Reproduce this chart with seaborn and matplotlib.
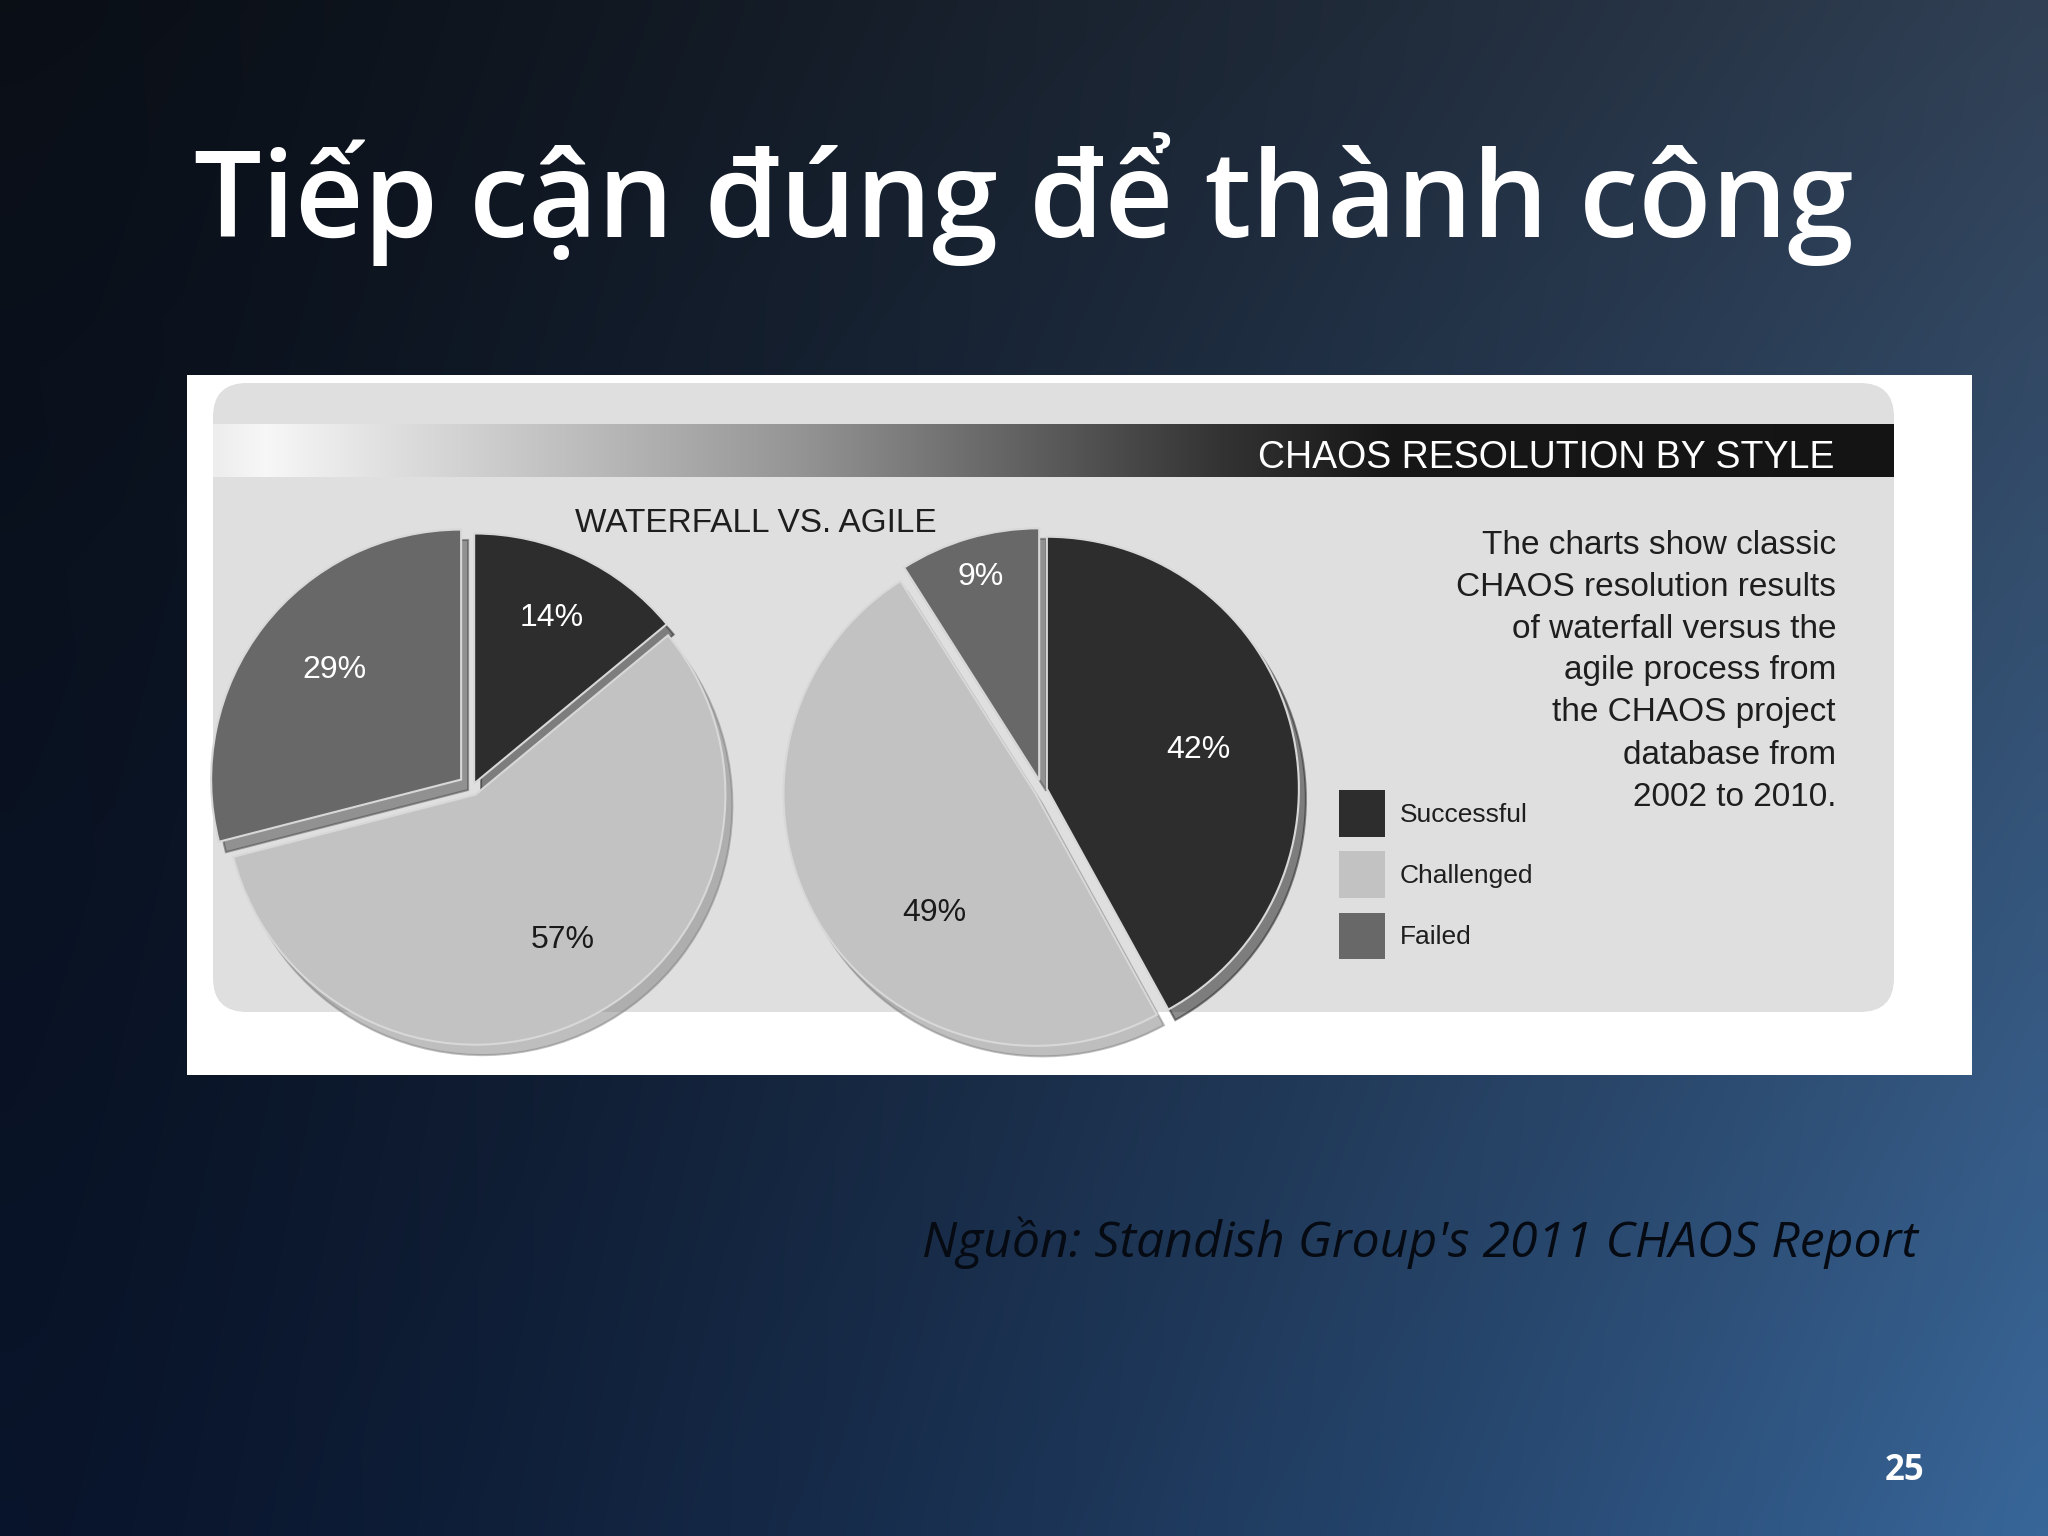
import numpy as np
import matplotlib
matplotlib.use("Agg")
import matplotlib.pyplot as plt
import seaborn as sns
from matplotlib import font_manager as fm
from matplotlib.patches import FancyBboxPatch, Rectangle, Patch

# ---------------- data ----------------
categories = ["Successful", "Challenged", "Failed"]
waterfall_pct = [14, 57, 29]
agile_pct = [42, 49, 9]
slide_title = "Tiếp cận đúng để thành công"
banner_title = "CHAOS RESOLUTION BY STYLE"
chart_subtitle = "WATERFALL VS. AGILE"
description_lines = [
    "The charts show classic",
    "CHAOS resolution results",
    "of waterfall versus the",
    "agile process from",
    "the CHAOS project",
    "database from",
    "2002 to 2010.",
]
source_text = "Nguồn: Standish Group's 2011 CHAOS Report"
page_number = "25"

# ---------------- style ----------------
sns.set_theme(style="white")
avail = {f.name for f in fm.fontManager.ttflist}
narrow = "Liberation Sans Narrow" if "Liberation Sans Narrow" in avail else "Liberation Sans"
plt.rcParams["font.family"] = ["Open Sans", "DejaVu Sans"]

slice_colors = sns.color_palette(["#2d2d2d", "#c2c2c2", "#686868"])
label_colors = ["white", "#1a1a1a", "white"]

W, H = 2048, 1536
fig = plt.figure(figsize=(W / 100, H / 100), dpi=100)

# background canvas in pixel coordinates
bg = fig.add_axes([0, 0, 1, 1])
ny, nx = 96, 96
tl = np.array([0.04, 0.06, 0.09])
tr = np.array([0.19, 0.25, 0.33])
bl = np.array([0.035, 0.08, 0.17])
br = np.array([0.22, 0.40, 0.60])
u = np.linspace(0, 1, nx)[None, :, None]
v = np.linspace(0, 1, ny)[:, None, None]
u2 = u ** 1.4
img = tl * (1 - u2) * (1 - v) + tr * u2 * (1 - v) + bl * (1 - u2) * v + br * u2 * v
bg.imshow(np.clip(img, 0, 1), extent=[0, W, H, 0], aspect="auto",
          interpolation="bilinear", zorder=0)

# white picture box
bg.add_patch(Rectangle((187, 375), 1785, 700, fc="white", ec="none", zorder=1))
# grey rounded panel
pad = 34
bg.add_patch(FancyBboxPatch((213 + pad, 383 + pad), 1681 - 2 * pad, 629 - 2 * pad,
                            boxstyle=f"round,pad={pad}", fc="#dfdfdf", ec="none", zorder=2))
# gradient banner
gx = np.linspace(0, 1, 400)
stops_x = [0.0, 0.03, 0.10, 0.35, 0.60, 0.70, 1.0]
stops_v = [0.93, 0.97, 0.88, 0.58, 0.20, 0.09, 0.08]
gv = np.interp(gx, stops_x, stops_v)
banner = np.repeat(np.stack([gv, gv, gv], axis=-1)[None, :, :], 2, axis=0)
bg.imshow(banner, extent=[213, 1894, 477, 424], aspect="auto",
          interpolation="bilinear", zorder=3)
bg.set_xlim(0, W)
bg.set_ylim(H, 0)
bg.axis("off")

bg.text(1834, 458, banner_title, color="white", fontsize=27, family=narrow,
        ha="right", va="center", zorder=4)
bg.text(756, 523, chart_subtitle, color="#1e1e1e", fontsize=24, family=narrow,
        ha="center", va="center", zorder=4)
for i, line in enumerate(description_lines):
    bg.text(1836, 545 + 42 * i, line, color="#1e1e1e", fontsize=24, family=narrow,
            ha="right", va="center", zorder=4)

# slide title, source, page number
bg.text(194, 237, slide_title, color="white", fontsize=86, fontweight="semibold",
        ha="left", va="baseline", zorder=4)
bg.text(1918, 1257, source_text, color="#060a12", fontsize=36, style="italic",
        ha="right", va="baseline", zorder=4)
bg.text(1924, 1480, page_number, color="white", fontsize=25, fontweight="bold",
        ha="right", va="baseline", zorder=4)


def draw_pie(values, cx, cy, r, explode, label_dist, label_rot):
    ax = fig.add_axes([(cx - 1.2 * r) / W, 1 - (cy + 1.2 * r) / H, 2.4 * r / W, 2.4 * r / H])
    wedges, texts, autotexts = ax.pie(
        values, colors=slice_colors, startangle=90, counterclock=False,
        explode=explode, autopct=lambda p: f"{p:.0f}%", pctdistance=0.65,
        wedgeprops=dict(edgecolor="#d8d8d8", linewidth=1.5),
        shadow=dict(ox=0.02, oy=-0.03, shade=0.35),
        textprops=dict(fontsize=23, family=narrow))
    for w, t, d, rot, c in zip(wedges, autotexts, label_dist, label_rot, label_colors):
        mid = np.deg2rad((w.theta1 + w.theta2) / 2 + rot)
        x0, y0 = w.center
        t.set_position((x0 + d * w.r * np.cos(mid), y0 + d * w.r * np.sin(mid)))
        t.set_color(c)
    ax.set_xlim(-1.2, 1.2)
    ax.set_ylim(-1.2, 1.2)
    ax.set_aspect("equal")
    ax.axis("off")
    return wedges


draw_pie(waterfall_pct, 472, 788, 250, [0.02, 0.03, 0.055], [0.73, 0.68, 0.67], [0, 4, -3])
draw_pie(agile_pct, 1042, 790, 252, [0.02, 0.03, 0.04], [0.62, 0.62, 0.84], [0, 19, 0])

handles = [Patch(facecolor=c, edgecolor="none") for c in slice_colors]
fig.legend(handles, categories, loc="upper left",
           bbox_to_anchor=(1339 / W, 1 - 790 / H), frameon=False,
           prop=dict(family=narrow, size=19), labelcolor="#1e1e1e",
           handlelength=1.75, handleheight=2.35, labelspacing=0.55,
           handletextpad=0.55, borderpad=0, borderaxespad=0)

fig.savefig("out.png", dpi=100)
